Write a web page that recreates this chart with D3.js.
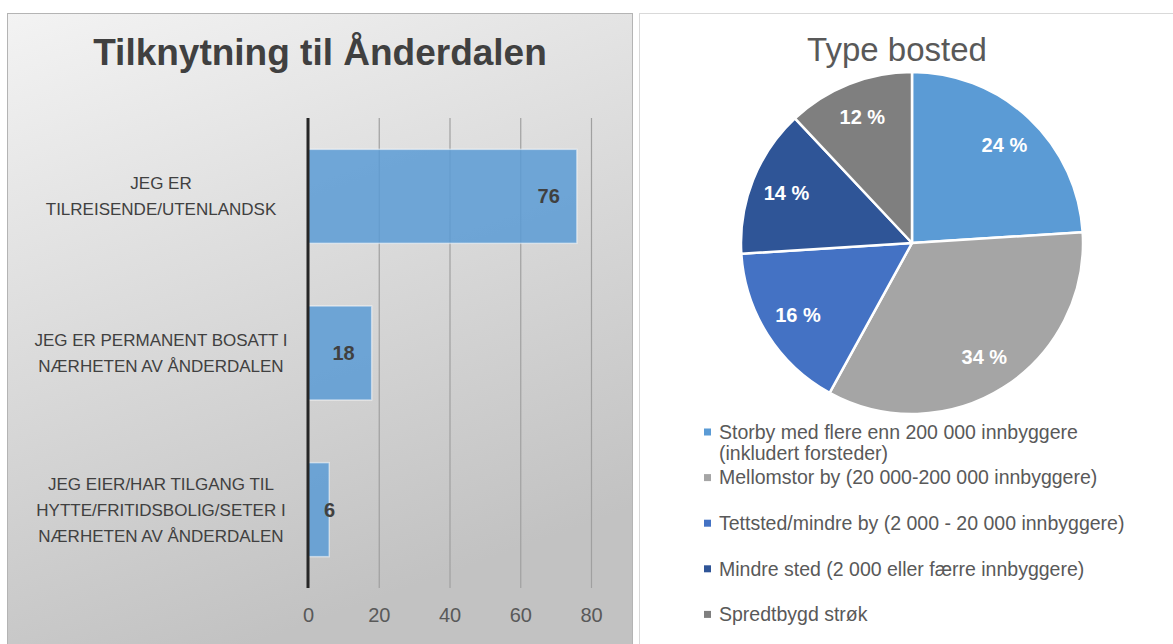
<!DOCTYPE html>
<html>
<head>
<meta charset="utf-8">
<script src="https://cdn.jsdelivr.net/npm/d3@7"></script>
<style>
  body { margin: 0; background: #fff; }
  svg { display: block; font-family: "Liberation Sans", Arial, sans-serif; }
</style>
</head>
<body>
<svg width="1173" height="644"></svg>
<script>
// bar chart data
var barTitle = "Tilknytning til Ånderdalen";
var categories = ["tilreisende", "bosatt", "hytte"];
var categoryLines = [
  ["JEG ER", "TILREISENDE/UTENLANDSK"],
  ["JEG ER PERMANENT BOSATT I", "NÆRHETEN AV ÅNDERDALEN"],
  ["JEG EIER/HAR TILGANG TIL", "HYTTE/FRITIDSBOLIG/SETER I", "NÆRHETEN AV ÅNDERDALEN"]
];
var barValues = [76, 18, 6];
var xTicks = [0, 20, 40, 60, 80];

// pie chart data
var pieTitle = "Type bosted";
var pieLabels = [
  "Storby med flere enn 200 000 innbyggere (inkludert forsteder)",
  "Mellomstor by (20 000-200 000 innbyggere)",
  "Tettsted/mindre by (2 000 - 20 000 innbyggere)",
  "Mindre sted (2 000 eller færre innbyggere)",
  "Spredtbygd strøk"
];
var legendLines = [
  ["Storby med flere enn 200 000 innbyggere", "(inkludert forsteder)"],
  ["Mellomstor by (20 000-200 000 innbyggere)"],
  ["Tettsted/mindre by (2 000 - 20 000 innbyggere)"],
  ["Mindre sted (2 000 eller færre innbyggere)"],
  ["Spredtbygd strøk"]
];
var pieValues = [24, 34, 16, 14, 12];
var pieColors = ["#5b9bd5", "#a5a5a5", "#4472c4", "#2f5597", "#7f7f7f"];

var svg = d3.select("svg");

// gradient for left panel
var defs = svg.append("defs");
var grad = defs.append("linearGradient")
    .attr("id", "bg")
    .attr("x1", "0").attr("y1", "0")
    .attr("x2", "0.35").attr("y2", "1");
grad.append("stop").attr("offset", "0%").attr("stop-color", "#f3f3f3");
grad.append("stop").attr("offset", "100%").attr("stop-color", "#c2c2c2");

// panels
svg.append("rect")
    .attr("x", 7.5).attr("y", 13.5)
    .attr("width", 625).attr("height", 640)
    .attr("fill", "url(#bg)")
    .attr("stroke", "#b4b4b4");

svg.append("rect")
    .attr("x", 639.5).attr("y", 13.5)
    .attr("width", 600).attr("height", 640)
    .attr("fill", "#fff")
    .attr("stroke", "#d9d9d9");

// ---- bar chart ----
svg.append("text")
    .attr("x", 320).attr("y", 65)
    .attr("text-anchor", "middle")
    .attr("font-size", 37)
    .attr("font-weight", "bold")
    .attr("fill", "#404040")
    .text(barTitle);

var x = d3.scaleLinear()
    .domain([0, 80])
    .range([308, 591]);

var y = d3.scaleBand()
    .domain(categories)
    .range([118, 588])
    .paddingInner(0.4)
    .paddingOuter(0.2);

var g = svg.append("g");

// gridlines + tick labels
var xAxis = g.append("g")
    .attr("transform", "translate(0,588)")
    .call(d3.axisBottom(x).tickValues(xTicks).tickSize(-470).tickPadding(20));
xAxis.select(".domain").remove();
xAxis.selectAll(".tick line")
    .attr("stroke", "#a0a0a0")
    .attr("stroke-width", 1.2);
xAxis.selectAll(".tick text")
    .attr("font-size", 20)
    .attr("font-family", "Liberation Sans, Arial, sans-serif")
    .attr("fill", "#595959");

// bars
g.selectAll(".bar")
    .data(barValues)
    .enter().append("rect")
    .attr("class", "bar")
    .attr("x", x(0))
    .attr("y", function(d, i) { return y(categories[i]); })
    .attr("width", function(d) { return x(d) - x(0); })
    .attr("height", y.bandwidth())
    .attr("fill", "#5b9bd5")
    .attr("fill-opacity", 0.85)
    .attr("stroke", "#ffffff")
    .attr("stroke-opacity", 0.5)
    .attr("stroke-width", 1.5);

// value axis line
g.append("line")
    .attr("x1", x(0)).attr("x2", x(0))
    .attr("y1", 118).attr("y2", 588)
    .attr("stroke", "#262626")
    .attr("stroke-width", 3);

// value labels, inside end
g.selectAll(".val")
    .data(barValues)
    .enter().append("text")
    .attr("class", "val")
    .attr("y", function(d, i) { return y(categories[i]) + y.bandwidth() / 2; })
    .attr("dy", "0.35em")
    .attr("font-size", 20)
    .attr("font-weight", "bold")
    .attr("fill", "#404040")
    .text(function(d) { return d; })
    .each(function(d) {
      var w = this.getComputedTextLength();
      var right = x(d) - 17;
      if (right - w < x(0) + 16) right = x(0) + 16 + w;
      d3.select(this).attr("x", right).attr("text-anchor", "end");
    });

// category labels
var lh = 26;
categoryLines.forEach(function(lines, i) {
  var cy = y(categories[i]) + y.bandwidth() / 2;
  var t = g.append("text")
      .attr("text-anchor", "middle")
      .attr("font-size", 17)
      .attr("fill", "#404040");
  lines.forEach(function(line, j) {
    t.append("tspan")
        .attr("x", 161)
        .attr("y", cy + (j - (lines.length - 1) / 2) * lh)
        .attr("dy", "0.35em")
        .text(line);
  });
});

// ---- pie chart ----
svg.append("text")
    .attr("x", 897).attr("y", 61)
    .attr("text-anchor", "middle")
    .attr("font-size", 33)
    .attr("fill", "#595959")
    .text(pieTitle);

var pie = d3.pie().sort(null).value(function(d) { return d; });
var arc = d3.arc().innerRadius(0).outerRadius(171);
var labelArc = d3.arc().innerRadius(100).outerRadius(170);

var pg = svg.append("g").attr("transform", "translate(912,243)");
var slices = pie(pieValues);

pg.selectAll("path")
    .data(slices)
    .enter().append("path")
    .attr("d", arc)
    .attr("fill", function(d, i) { return pieColors[i]; })
    .attr("stroke", "#fff")
    .attr("stroke-width", 2.5)
    .attr("stroke-linejoin", "round");

pg.selectAll(".plabel")
    .data(slices)
    .enter().append("text")
    .attr("class", "plabel")
    .attr("transform", function(d) { return "translate(" + labelArc.centroid(d) + ")"; })
    .attr("text-anchor", "middle")
    .attr("dy", "0.35em")
    .attr("font-size", 20)
    .attr("font-weight", "bold")
    .attr("fill", "#fff")
    .text(function(d) { return d.data + " %"; });

// legend
var lg = svg.append("g");
legendLines.forEach(function(lines, i) {
  var ly = 432 + i * 45.6;
  lg.append("rect")
      .attr("x", 704).attr("y", ly - 3.5)
      .attr("width", 7).attr("height", 7)
      .attr("fill", pieColors[i]);
  var t = lg.append("text")
      .attr("font-size", 19.5)
      .attr("fill", "#595959")
      .attr("aria-label", pieLabels[i]);
  lines.forEach(function(line, j) {
    t.append("tspan")
        .attr("x", 719)
        .attr("y", ly + j * 21.5)
        .attr("dy", "0.35em")
        .text(line);
  });
});
</script>
</body>
</html>
